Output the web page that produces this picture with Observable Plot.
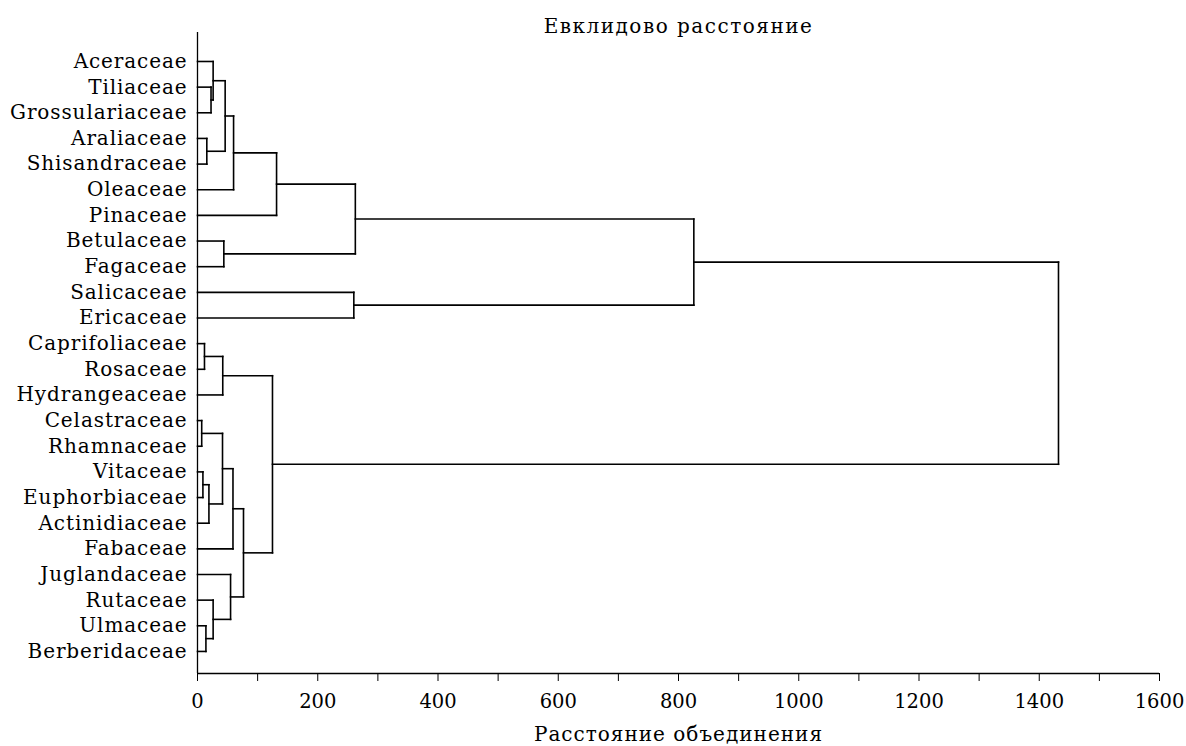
<!DOCTYPE html>
<html><head><meta charset="utf-8">
<script src="https://cdn.jsdelivr.net/npm/d3@7"></script>
<script src="https://cdn.jsdelivr.net/npm/@observablehq/plot@0.6"></script>
<style>
body{margin:0;background:#fff;}
#chart svg{display:block;}
</style></head><body><div id="chart"></div>
<script>
// Leaves (top to bottom)
const leaves = ["Aceraceae","Tiliaceae","Grossulariaceae","Araliaceae","Shisandraceae","Oleaceae","Pinaceae","Betulaceae","Fagaceae","Salicaceae","Ericaceae","Caprifoliaceae","Rosaceae","Hydrangeaceae","Celastraceae","Rhamnaceae","Vitaceae","Euphorbiaceae","Actinidiaceae","Fabaceae","Juglandaceae","Rutaceae","Ulmaceae","Berberidaceae"];
// Linkage: cluster ids 0..23 are leaves, each merge k creates cluster 24+k
const mergeA      = [16, 14, 11, 22, 3,  24, 1,  0,  21, 25, 26, 7,  31, 20, 33, 36, 38, 34, 39, 9,   42,  44,  45];
const mergeB      = [17, 15, 12, 23, 4,  18, 2,  30, 27, 29, 13, 8,  28, 32, 19, 5,  37, 40, 6,  10,  35,  43,  41];
const mergeHeight = [9,  7,  11.6,14, 15.5,19, 22.5,26, 26, 41.6,42, 43.8,46, 55, 59, 60, 76.5,124.7,131.5,260,262.5,825.5,1432];
const xTicks = d3.range(0, 1601, 100);
const xLabeledStep = 200;
const title = "Евклидово расстояние";
const xLabel = "Расстояние объединения";
const yDomain = [-1.13, 23.86];

const nodeY = leaves.map((_, i) => i);
const nodeX = leaves.map(() => 0);
const links = [];
mergeA.forEach((a, k) => {
  const b = mergeB[k], h = mergeHeight[k];
  const ya = nodeY[a], yb = nodeY[b];
  links.push({x1: nodeX[a], y1: ya, x2: h, y2: ya});
  links.push({x1: nodeX[b], y1: yb, x2: h, y2: yb});
  links.push({x1: h, y1: ya, x2: h, y2: yb});
  nodeY.push((ya + yb) / 2);
  nodeX.push(h);
});

const svg = Plot.plot({
  width: 1186,
  height: 746,
  marginLeft: 197,
  marginRight: 27,
  marginTop: 32,
  marginBottom: 73,
  style: {fontFamily: "'DejaVu Serif', serif", fontSize: "19px", color: "#000", background: "#fff"},
  x: {domain: [0, 1600]},
  y: {domain: yDomain, reverse: true, axis: null},
  marks: [
    Plot.link(links, {x1: "x1", y1: "y1", x2: "x2", y2: "y2", stroke: "#000", strokeWidth: 1.6, strokeLinecap: "square"}),
    Plot.ruleX([0], {stroke: "#000", strokeWidth: 1.3}),
    Plot.ruleY([yDomain[1]], {stroke: "#000", strokeWidth: 1.3}),
    Plot.axisX({ticks: xTicks, tickSize: 8, tickPadding: 13, tickFormat: d => d % xLabeledStep === 0 ? String(d) : "", label: null, fontSize: 19.5, stroke: "#000"}),
    Plot.text(leaves, {x: 0, y: (d, i) => i, text: d => d, textAnchor: "end", dx: -10, fontSize: 20, fill: "#000"}),
    Plot.text([title], {frameAnchor: "top", dy: -14, text: d => d, fontSize: 20, fill: "#000"}),
    Plot.text([xLabel], {frameAnchor: "bottom", dy: 67, text: d => d, fontSize: 20, fill: "#000"})
  ]
});
const textGroups = d3.select(svg).selectAll("g[aria-label='text']");
textGroups.filter((_, i) => i === 0).selectAll("text").style("letter-spacing", "0.9px");
textGroups.filter((_, i) => i === 1).selectAll("text").style("letter-spacing", "1.5px");
textGroups.filter((_, i) => i === 2).selectAll("text").style("letter-spacing", "1px");
document.getElementById("chart").appendChild(svg);
</script></body></html>
